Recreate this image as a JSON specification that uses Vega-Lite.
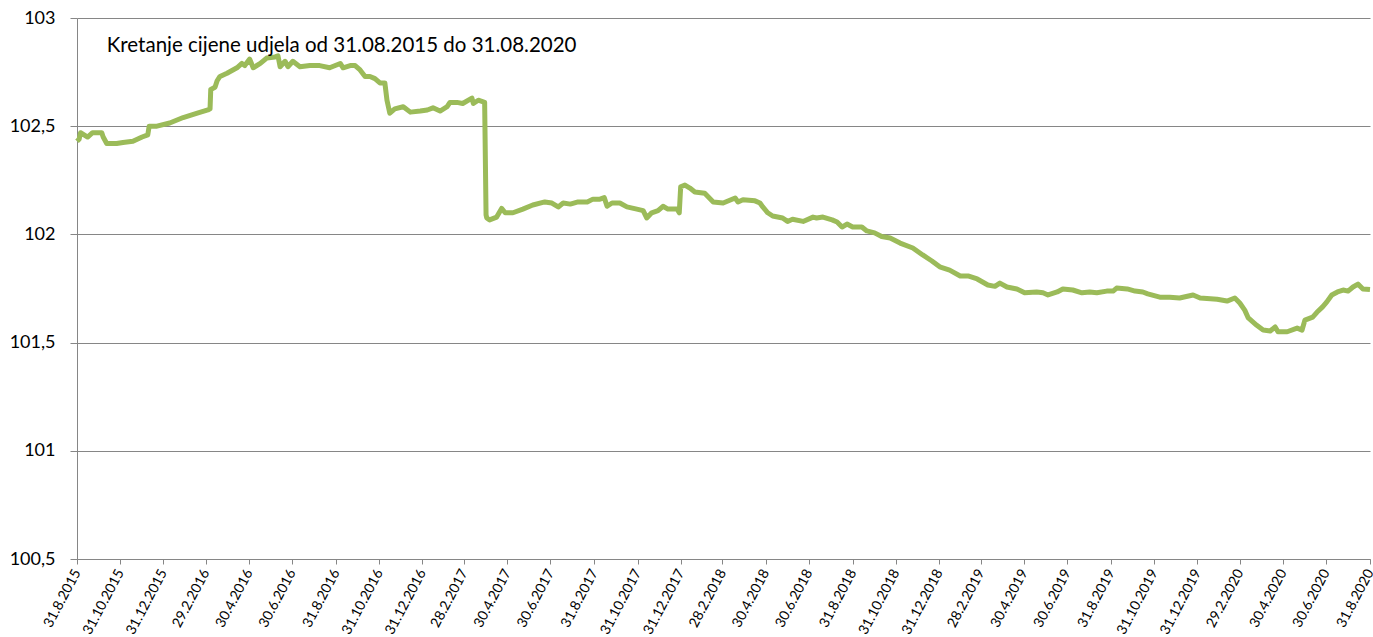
{
  "$schema": "https://vega.github.io/schema/vega-lite/v6.json",
  "width": 1293,
  "height": 541,
  "autosize": "none",
  "padding": {"left": 77, "top": 18, "right": 3, "bottom": 78},
  "background": "white",
  "config": {
    "view": {"stroke": null},
    "font": "Lato"
  },
  "data": {
    "values": [
      {"date": "2015-08-31", "price": 102.43},
      {"date": "2015-09-03", "price": 102.44},
      {"date": "2015-09-05", "price": 102.47},
      {"date": "2015-09-15", "price": 102.45},
      {"date": "2015-09-22", "price": 102.47},
      {"date": "2015-10-05", "price": 102.47},
      {"date": "2015-10-07", "price": 102.45},
      {"date": "2015-10-12", "price": 102.42},
      {"date": "2015-10-26", "price": 102.42},
      {"date": "2015-11-04", "price": 102.425},
      {"date": "2015-11-18", "price": 102.43},
      {"date": "2015-12-01", "price": 102.45},
      {"date": "2015-12-09", "price": 102.46},
      {"date": "2015-12-11", "price": 102.5},
      {"date": "2015-12-22", "price": 102.5},
      {"date": "2016-01-09", "price": 102.515},
      {"date": "2016-01-28", "price": 102.54},
      {"date": "2016-02-17", "price": 102.56},
      {"date": "2016-03-03", "price": 102.575},
      {"date": "2016-03-06", "price": 102.58},
      {"date": "2016-03-07", "price": 102.67},
      {"date": "2016-03-13", "price": 102.68},
      {"date": "2016-03-16", "price": 102.71},
      {"date": "2016-03-20", "price": 102.73},
      {"date": "2016-03-30", "price": 102.745},
      {"date": "2016-04-13", "price": 102.77},
      {"date": "2016-04-20", "price": 102.79},
      {"date": "2016-04-24", "price": 102.78},
      {"date": "2016-05-01", "price": 102.81},
      {"date": "2016-05-06", "price": 102.77},
      {"date": "2016-05-16", "price": 102.79},
      {"date": "2016-05-25", "price": 102.815},
      {"date": "2016-06-06", "price": 102.82},
      {"date": "2016-06-10", "price": 102.825},
      {"date": "2016-06-13", "price": 102.775},
      {"date": "2016-06-20", "price": 102.8},
      {"date": "2016-06-24", "price": 102.775},
      {"date": "2016-07-01", "price": 102.8},
      {"date": "2016-07-11", "price": 102.775},
      {"date": "2016-07-25", "price": 102.78},
      {"date": "2016-08-08", "price": 102.78},
      {"date": "2016-08-22", "price": 102.77},
      {"date": "2016-09-06", "price": 102.79},
      {"date": "2016-09-10", "price": 102.77},
      {"date": "2016-09-20", "price": 102.78},
      {"date": "2016-09-27", "price": 102.78},
      {"date": "2016-10-04", "price": 102.76},
      {"date": "2016-10-11", "price": 102.73},
      {"date": "2016-10-18", "price": 102.73},
      {"date": "2016-10-25", "price": 102.72},
      {"date": "2016-11-01", "price": 102.7},
      {"date": "2016-11-08", "price": 102.7},
      {"date": "2016-11-11", "price": 102.62},
      {"date": "2016-11-15", "price": 102.56},
      {"date": "2016-11-22", "price": 102.58},
      {"date": "2016-12-04", "price": 102.59},
      {"date": "2016-12-14", "price": 102.565},
      {"date": "2016-12-28", "price": 102.57},
      {"date": "2017-01-07", "price": 102.575},
      {"date": "2017-01-15", "price": 102.585},
      {"date": "2017-01-25", "price": 102.57},
      {"date": "2017-02-04", "price": 102.59},
      {"date": "2017-02-08", "price": 102.61},
      {"date": "2017-02-18", "price": 102.61},
      {"date": "2017-02-26", "price": 102.605},
      {"date": "2017-03-11", "price": 102.63},
      {"date": "2017-03-13", "price": 102.605},
      {"date": "2017-03-20", "price": 102.62},
      {"date": "2017-03-29", "price": 102.61},
      {"date": "2017-03-31", "price": 102.09},
      {"date": "2017-04-01", "price": 102.076},
      {"date": "2017-04-05", "price": 102.067},
      {"date": "2017-04-15", "price": 102.08},
      {"date": "2017-04-22", "price": 102.12},
      {"date": "2017-04-27", "price": 102.1},
      {"date": "2017-05-08", "price": 102.1},
      {"date": "2017-05-22", "price": 102.117},
      {"date": "2017-06-05", "price": 102.136},
      {"date": "2017-06-22", "price": 102.15},
      {"date": "2017-07-02", "price": 102.145},
      {"date": "2017-07-11", "price": 102.127},
      {"date": "2017-07-18", "price": 102.145},
      {"date": "2017-07-28", "price": 102.14},
      {"date": "2017-08-08", "price": 102.15},
      {"date": "2017-08-21", "price": 102.15},
      {"date": "2017-08-29", "price": 102.163},
      {"date": "2017-09-08", "price": 102.163},
      {"date": "2017-09-14", "price": 102.17},
      {"date": "2017-09-18", "price": 102.13},
      {"date": "2017-09-25", "price": 102.145},
      {"date": "2017-10-06", "price": 102.145},
      {"date": "2017-10-16", "price": 102.127},
      {"date": "2017-10-30", "price": 102.117},
      {"date": "2017-11-08", "price": 102.11},
      {"date": "2017-11-13", "price": 102.076},
      {"date": "2017-11-20", "price": 102.1},
      {"date": "2017-11-29", "price": 102.11},
      {"date": "2017-12-06", "price": 102.13},
      {"date": "2017-12-13", "price": 102.117},
      {"date": "2017-12-26", "price": 102.117},
      {"date": "2017-12-29", "price": 102.1},
      {"date": "2017-12-31", "price": 102.22},
      {"date": "2018-01-06", "price": 102.228},
      {"date": "2018-01-13", "price": 102.214},
      {"date": "2018-01-20", "price": 102.196},
      {"date": "2018-02-03", "price": 102.19},
      {"date": "2018-02-15", "price": 102.15},
      {"date": "2018-03-01", "price": 102.145},
      {"date": "2018-03-18", "price": 102.168},
      {"date": "2018-03-22", "price": 102.15},
      {"date": "2018-03-29", "price": 102.16},
      {"date": "2018-04-15", "price": 102.155},
      {"date": "2018-04-22", "price": 102.145},
      {"date": "2018-04-26", "price": 102.127},
      {"date": "2018-05-03", "price": 102.1},
      {"date": "2018-05-10", "price": 102.085},
      {"date": "2018-05-24", "price": 102.076},
      {"date": "2018-05-31", "price": 102.06},
      {"date": "2018-06-07", "price": 102.07},
      {"date": "2018-06-22", "price": 102.06},
      {"date": "2018-07-06", "price": 102.08},
      {"date": "2018-07-11", "price": 102.076},
      {"date": "2018-07-20", "price": 102.08},
      {"date": "2018-08-02", "price": 102.067},
      {"date": "2018-08-09", "price": 102.057},
      {"date": "2018-08-16", "price": 102.034},
      {"date": "2018-08-23", "price": 102.048},
      {"date": "2018-08-31", "price": 102.034},
      {"date": "2018-09-13", "price": 102.034},
      {"date": "2018-09-20", "price": 102.016},
      {"date": "2018-10-01", "price": 102.007},
      {"date": "2018-10-11", "price": 101.99},
      {"date": "2018-10-23", "price": 101.983},
      {"date": "2018-11-06", "price": 101.96},
      {"date": "2018-11-24", "price": 101.937},
      {"date": "2018-12-08", "price": 101.905},
      {"date": "2018-12-21", "price": 101.877},
      {"date": "2019-01-01", "price": 101.85},
      {"date": "2019-01-15", "price": 101.835},
      {"date": "2019-01-30", "price": 101.808},
      {"date": "2019-02-10", "price": 101.808},
      {"date": "2019-02-23", "price": 101.794},
      {"date": "2019-03-10", "price": 101.766},
      {"date": "2019-03-20", "price": 101.76},
      {"date": "2019-03-27", "price": 101.775},
      {"date": "2019-04-06", "price": 101.757},
      {"date": "2019-04-20", "price": 101.748},
      {"date": "2019-05-01", "price": 101.73},
      {"date": "2019-05-18", "price": 101.734},
      {"date": "2019-05-27", "price": 101.73},
      {"date": "2019-06-03", "price": 101.72},
      {"date": "2019-06-16", "price": 101.734},
      {"date": "2019-06-24", "price": 101.748},
      {"date": "2019-07-08", "price": 101.743},
      {"date": "2019-07-21", "price": 101.73},
      {"date": "2019-08-01", "price": 101.734},
      {"date": "2019-08-11", "price": 101.73},
      {"date": "2019-08-25", "price": 101.738},
      {"date": "2019-09-03", "price": 101.738},
      {"date": "2019-09-08", "price": 101.752},
      {"date": "2019-09-23", "price": 101.748},
      {"date": "2019-10-04", "price": 101.738},
      {"date": "2019-10-15", "price": 101.734},
      {"date": "2019-10-22", "price": 101.725},
      {"date": "2019-11-08", "price": 101.71},
      {"date": "2019-11-22", "price": 101.71},
      {"date": "2019-12-06", "price": 101.706},
      {"date": "2019-12-25", "price": 101.72},
      {"date": "2020-01-04", "price": 101.706},
      {"date": "2020-01-28", "price": 101.7},
      {"date": "2020-02-11", "price": 101.692},
      {"date": "2020-02-22", "price": 101.706},
      {"date": "2020-02-29", "price": 101.683},
      {"date": "2020-03-07", "price": 101.65},
      {"date": "2020-03-12", "price": 101.614},
      {"date": "2020-03-24", "price": 101.58},
      {"date": "2020-04-02", "price": 101.558},
      {"date": "2020-04-12", "price": 101.554},
      {"date": "2020-04-19", "price": 101.572},
      {"date": "2020-04-23", "price": 101.55},
      {"date": "2020-05-06", "price": 101.55},
      {"date": "2020-05-20", "price": 101.567},
      {"date": "2020-05-27", "price": 101.558},
      {"date": "2020-05-31", "price": 101.604},
      {"date": "2020-06-11", "price": 101.618},
      {"date": "2020-06-17", "price": 101.64},
      {"date": "2020-06-25", "price": 101.665},
      {"date": "2020-07-01", "price": 101.688},
      {"date": "2020-07-08", "price": 101.72},
      {"date": "2020-07-16", "price": 101.734},
      {"date": "2020-07-24", "price": 101.743},
      {"date": "2020-07-31", "price": 101.738},
      {"date": "2020-08-07", "price": 101.757},
      {"date": "2020-08-14", "price": 101.77},
      {"date": "2020-08-21", "price": 101.748},
      {"date": "2020-08-31", "price": 101.745}
    ]
  },
  "layer": [
    {
      "mark": {"type": "line", "color": "#9BBB59", "strokeWidth": 5, "strokeJoin": "round", "clip": false},
      "encoding": {
        "x": {
          "field": "date",
          "type": "temporal",
          "scale": {"type": "utc", "domain": [{"year": 2015, "month": 8, "date": 31, "utc": true}, {"year": 2020, "month": 8, "date": 31, "utc": true}]},
          "axis": {
            "title": null,
            "grid": false,
            "labelExpr": "utcFormat(datum.value, '%-d.%-m.%Y')",
            "labelAngle": -62,
            "labelAlign": "right",
            "labelBaseline": "middle",
            "labelFontSize": 14,
            "labelColor": "#000000",
            "labelPadding": 6,
            "labelOverlap": false,
            "labelFlush": false,
            "labelBound": false,
            "tickColor": "#868686",
            "tickSize": 5,
            "domainColor": "#868686",
            "domainWidth": 1,
            "values": [
              {"year": 2015, "month": 8, "date": 31, "utc": true},
              {"year": 2015, "month": 10, "date": 31, "utc": true},
              {"year": 2015, "month": 12, "date": 31, "utc": true},
              {"year": 2016, "month": 2, "date": 29, "utc": true},
              {"year": 2016, "month": 4, "date": 30, "utc": true},
              {"year": 2016, "month": 6, "date": 30, "utc": true},
              {"year": 2016, "month": 8, "date": 31, "utc": true},
              {"year": 2016, "month": 10, "date": 31, "utc": true},
              {"year": 2016, "month": 12, "date": 31, "utc": true},
              {"year": 2017, "month": 2, "date": 28, "utc": true},
              {"year": 2017, "month": 4, "date": 30, "utc": true},
              {"year": 2017, "month": 6, "date": 30, "utc": true},
              {"year": 2017, "month": 8, "date": 31, "utc": true},
              {"year": 2017, "month": 10, "date": 31, "utc": true},
              {"year": 2017, "month": 12, "date": 31, "utc": true},
              {"year": 2018, "month": 2, "date": 28, "utc": true},
              {"year": 2018, "month": 4, "date": 30, "utc": true},
              {"year": 2018, "month": 6, "date": 30, "utc": true},
              {"year": 2018, "month": 8, "date": 31, "utc": true},
              {"year": 2018, "month": 10, "date": 31, "utc": true},
              {"year": 2018, "month": 12, "date": 31, "utc": true},
              {"year": 2019, "month": 2, "date": 28, "utc": true},
              {"year": 2019, "month": 4, "date": 30, "utc": true},
              {"year": 2019, "month": 6, "date": 30, "utc": true},
              {"year": 2019, "month": 8, "date": 31, "utc": true},
              {"year": 2019, "month": 10, "date": 31, "utc": true},
              {"year": 2019, "month": 12, "date": 31, "utc": true},
              {"year": 2020, "month": 2, "date": 29, "utc": true},
              {"year": 2020, "month": 4, "date": 30, "utc": true},
              {"year": 2020, "month": 6, "date": 30, "utc": true},
              {"year": 2020, "month": 8, "date": 31, "utc": true}
            ]
          }
        },
        "y": {
          "field": "price",
          "type": "quantitative",
          "scale": {"domain": [100.5, 103], "nice": false, "zero": false},
          "axis": {
            "title": null,
            "values": [100.5, 101, 101.5, 102, 102.5, 103],
            "labelExpr": "replace(format(datum.value, '.1~f'), '.', ',')",
            "labelFontSize": 18,
            "labelColor": "#000000",
            "labelPadding": 15,
            "tickSize": 7,
            "tickColor": "#868686",
            "domainColor": "#868686",
            "grid": true,
            "gridColor": "#868686",
            "gridWidth": 1
          }
        }
      }
    },
    {
      "data": {"values": [{"label": "Kretanje cijene udjela od 31.08.2015 do 31.08.2020"}]},
      "mark": {"type": "text", "align": "left", "baseline": "middle", "fontSize": 20.5, "color": "#000000"},
      "encoding": {
        "x": {"datum": {"year": 2015, "month": 10, "date": 12, "utc": true}, "type": "temporal"},
        "y": {"datum": 102.87, "type": "quantitative"},
        "text": {"field": "label"}
      }
    }
  ]
}
